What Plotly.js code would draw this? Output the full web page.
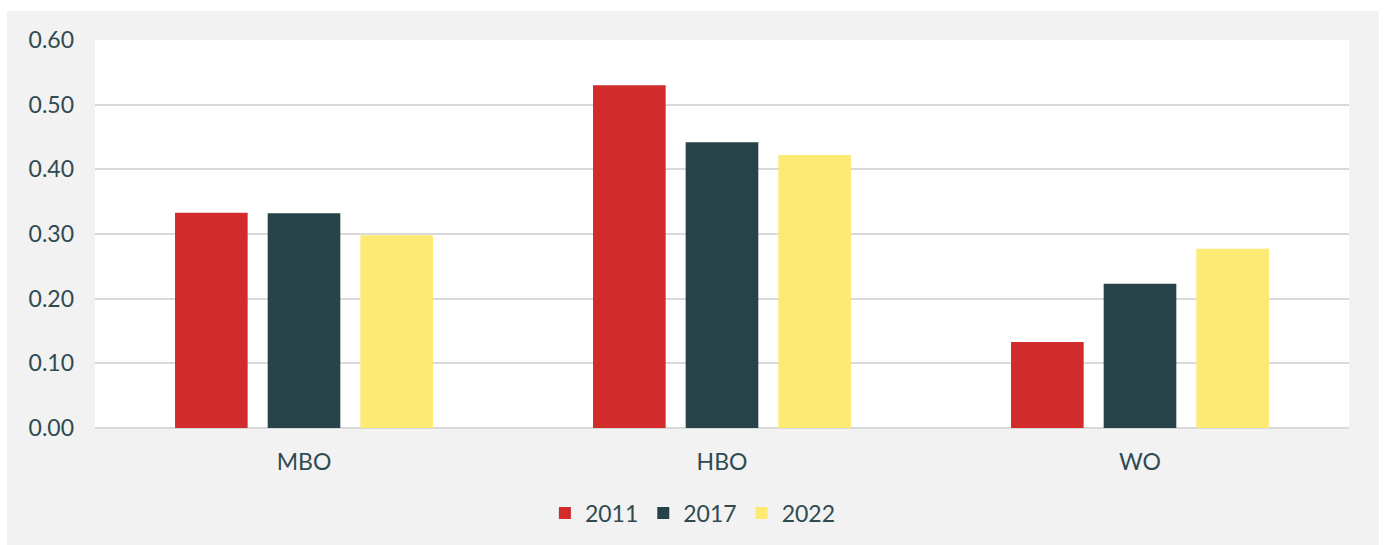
<!DOCTYPE html>
<html>
<head>
<meta charset="utf-8">
<script src="https://cdn.plot.ly/plotly-3.0.1.min.js"></script>
<style>
  html, body { margin: 0; padding: 0; background: #ffffff; }
  #chart { position: absolute; left: 7px; top: 11px; width: 1372px; height: 534px; }
</style>
</head>
<body>
<div id="chart"></div>
<script>
const categories = ["MBO", "HBO", "WO"];
const seriesNames = ["2011", "2017", "2022"];
const values2011 = [0.333, 0.530, 0.133];
const values2017 = [0.332, 0.442, 0.223];
const values2022 = [0.298, 0.422, 0.277];
const yTickVals = [0, 0.1, 0.2, 0.3, 0.4, 0.5, 0.6];
const yTickText = ["0.00", "0.10", "0.20", "0.30", "0.40", "0.50", "0.60"];
const colors = ["#d22b2b", "#26434a", "#fdea75"];

const seriesValues = [values2011, values2017, values2022];
const textColor = "#2f4a50";
const fontFamily = "Lato, 'Open Sans', sans-serif";

const traces = seriesNames.map((name, i) => ({
  type: "bar",
  name: name,
  x: categories,
  y: seriesValues[i],
  marker: { color: colors[i], line: { width: 0 } },
  hoverinfo: "skip"
}));

const layout = {
  width: 1372,
  height: 534,
  autosize: false,
  paper_bgcolor: "#f2f2f2",
  plot_bgcolor: "#ffffff",
  margin: { l: 88, r: 30, t: 29, b: 117, autoexpand: false },
  barmode: "group",
  bargap: 0.335,
  bargroupgap: 0.216,
  font: { family: fontFamily, color: textColor, size: 23 },
  showlegend: true,
  legend: {
    orientation: "h",
    x: 0.4768,
    xanchor: "center",
    y: -0.219,
    yanchor: "middle",
    font: { family: fontFamily, size: 23, color: textColor },
    bgcolor: "rgba(0,0,0,0)",
    traceorder: "normal"
  },
  xaxis: {
    type: "category",
    showgrid: false,
    zeroline: false,
    showline: false,
    ticks: "",
    tickfont: { family: fontFamily, size: 23, color: textColor },
    ticklabelstandoff: 18,
    fixedrange: true
  },
  yaxis: {
    range: [0, 0.6],
    tickvals: yTickVals,
    ticktext: yTickText,
    showgrid: true,
    gridcolor: "#d9d9d9",
    gridwidth: 2,
    zeroline: true,
    zerolinecolor: "#d9d9d9",
    zerolinewidth: 2,
    showline: false,
    ticks: "",
    tickfont: { family: fontFamily, size: 23, color: textColor },
    ticklabelstandoff: 20,
    fixedrange: true
  }
};

Plotly.newPlot("chart", traces, layout, { displayModeBar: false, staticPlot: true });
</script>
</body>
</html>
